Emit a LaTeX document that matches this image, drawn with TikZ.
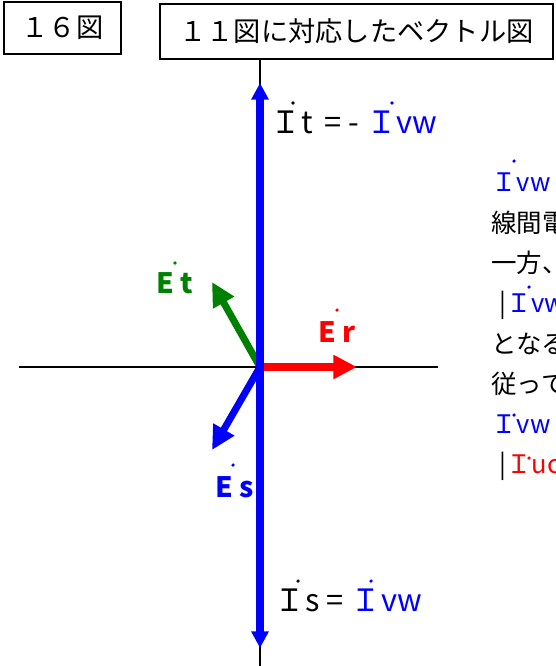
\documentclass[tikz,border=0pt]{standalone}
\usepackage{fontspec}
\setmainfont{Noto Sans CJK JP}
\usetikzlibrary{arrows.meta}
\definecolor{egreen}{RGB}{0,128,0}

\begin{document}
\begin{tikzpicture}[
    x=0.02cm, y=-0.02cm,
    box/.style={draw, line width=0.8pt, inner sep=0pt, font=\fontsize{15.5}{18}\selectfont},
    axis/.style={line width=0.8pt},
    ivec/.style={line width=4pt, blue, -{Triangle[length=9.5pt, width=9.5pt]}},
    vec/.style={line width=4pt, -{Triangle[length=13.5pt, width=13pt]}},
    ilabel/.style={anchor=base west, inner sep=0pt, font=\fontsize{17.5}{20}\selectfont},
    elabel/.style={anchor=base west, inner sep=0pt, font=\bfseries\fontsize{16}{19}\selectfont},
    note/.style={anchor=base west, inner sep=0pt, font=\fontsize{14.5}{17}\selectfont},
    pdot/.style={circle, fill, inner sep=0pt, minimum size=2pt},
]
\clip (0,0) rectangle (555,666);

% Headings
\node[box, minimum width=2.34cm, minimum height=1.04cm] (fig) at (62.5,28) {１６図};
\node[box, minimum width=7.86cm, minimum height=1.1cm] (title) at (356.5,31.5) {１１図に対応したベクトル図};

% Axes
\coordinate (O) at (260,367);
\coordinate (xl) at (19,367);
\coordinate (xr) at (438,367);
\coordinate (yb) at (260,666);
\draw[axis] (xl) -- (xr);
\draw[axis] (O |- title.south) -- (yb);

% Phase voltages
\coordinate (Et) at (212,282);
\coordinate (Es) at (212,450);
\coordinate (Er) at (357,367);
\draw[vec, egreen] (O) -- (Et);
\draw[vec, blue] (O) -- (Es);
\draw[vec, red] (O) -- (Er);

% Line currents
\coordinate (It) at (260,83);
\coordinate (Is) at (260,648);
\draw[ivec] (O) -- (It);
\draw[ivec] (O) -- (Is);

% Vector labels
\node[ilabel] (itlab) at (270,133) {Ｉt\, = - {\color{blue}Ｉvw}};
\node[ilabel] (islab) at (274,611) {Ｉs = {\color{blue}Ｉvw}};
\node[elabel, egreen] (etlab) at (156,293) {E t};
\node[elabel, red] (erlab) at (318,342) {E r};
\node[elabel, blue] (eslab) at (215,497) {E s};

% Notes (cut off at the right edge)
\node[note] (n1) at (491,191.5) {\color{blue}Ｉvw};
\node[note] (n2) at (491,232) {線間電};
\node[note] (n3) at (491,272) {一方、};
\node[note] (n4) at (499,312.5) {|{\color{blue}Ｉvw}};
\node[note] (n5) at (491,353) {となる};
\node[note] (n6) at (491,393) {従って};
\node[note] (n7) at (491,433) {\color{blue}Ｉvw};
\node[note] (n8) at (499,473.5) {|{\color{red}Ｉuc}};

% Phasor dots
\node[pdot] at (293,103) {};
\node[pdot, blue] at (392,103) {};
\node[pdot] at (298,581) {};
\node[pdot, blue] at (371,581) {};
\node[pdot, egreen] at (175,263) {};
\node[pdot, red] at (337,310) {};
\node[pdot, blue] at (233,465) {};
\node[pdot, blue] at (514,161) {};
\node[pdot, blue] at (529,287) {};
\node[pdot, blue] at (514,415) {};
\node[pdot, red] at (529,458) {};

\end{tikzpicture}
\end{document}
